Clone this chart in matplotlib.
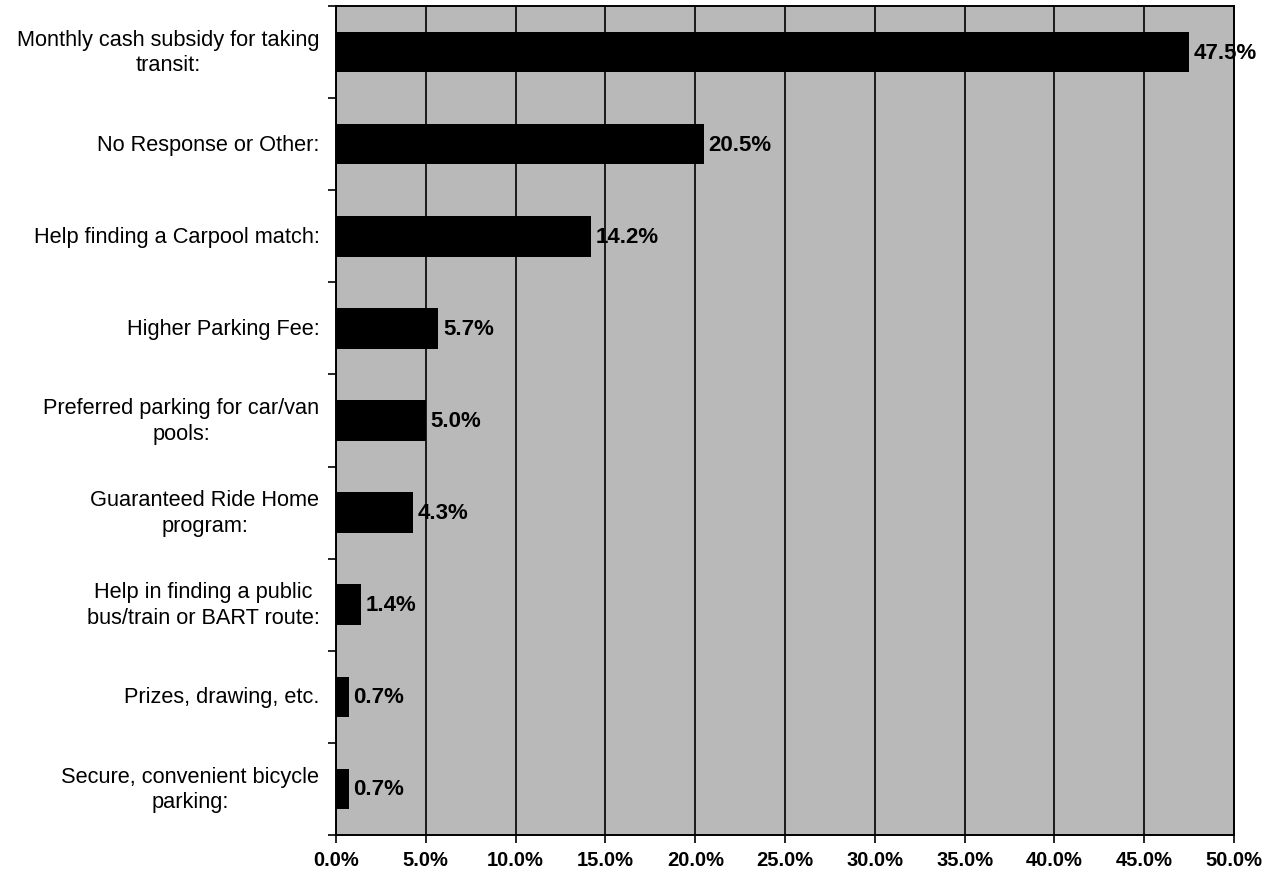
import matplotlib.pyplot as plt
import numpy as np

# Survey answers, top to bottom as in the original chart
categories = [
    "Monthly cash subsidy for taking\ntransit:",
    "No Response or Other:",
    "Help finding a Carpool match:",
    "Higher Parking Fee:",
    "Preferred parking for car/van\npools:",
    "Guaranteed Ride Home\nprogram:",
    "Help in finding a public\nbus/train or BART route:",
    "Prizes, drawing, etc.",
    "Secure, convenient bicycle\nparking:",
]
values = [47.5, 20.5, 14.2, 5.7, 5.0, 4.3, 1.4, 0.7, 0.7]
x_ticks = [0, 5, 10, 15, 20, 25, 30, 35, 40, 45, 50]

plt.rcParams['font.family'] = ['Liberation Sans', 'DejaVu Sans']

fig = plt.figure(figsize=(12.83, 8.78), dpi=100)
ax = fig.add_axes([0.2619, 0.0478, 0.7, 0.9442])
ax.set_facecolor('#b9b9b9')

n = len(categories)
y_pos = np.arange(n)
ax.barh(y_pos, values, height=0.44, color='black', zorder=3)

for y, v in zip(y_pos, values):
    ax.text(v + 0.25, y, f"{v:.1f}%", va='center', ha='left',
            fontsize=16, fontweight='bold', color='black', zorder=4)

ax.set_xlim(0, 50)
ax.set_ylim(n - 0.5, -0.5)
ax.set_xticks(x_ticks)
ax.set_xticklabels([f"{t:.1f}%" for t in x_ticks], fontsize=14.5, fontweight='bold')
ax.tick_params(axis='x', direction='out', length=6, width=1.2, pad=5)

# category labels centred on bars, ticks on category boundaries
ax.set_yticks(np.arange(n + 1) - 0.5)
ax.set_yticklabels([])
ax.tick_params(axis='y', direction='out', length=6, width=1.2)
for y, lab in zip(y_pos, categories):
    ax.text(-0.0185, y, lab, transform=ax.get_yaxis_transform(),
            ha='right', va='center', multialignment='center',
            fontsize=15.7, linespacing=1.3)

ax.grid(axis='x', color='black', linewidth=1.2, zorder=1)
for s in ax.spines.values():
    s.set_color('black')
    s.set_linewidth(1.4)

fig.savefig('out.png', dpi=100)
